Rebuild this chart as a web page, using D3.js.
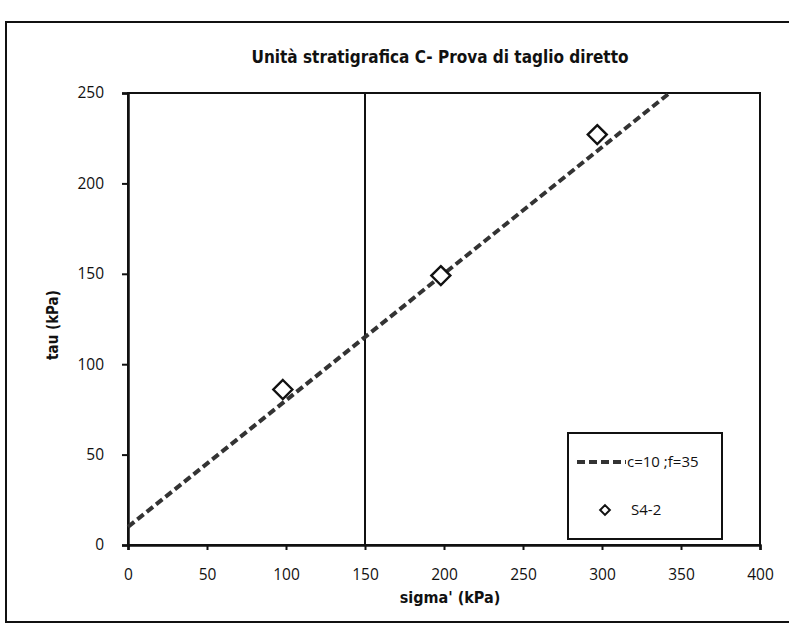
<!DOCTYPE html>
<html><head><meta charset="utf-8">
<script src="https://cdn.jsdelivr.net/npm/d3@7"></script>
<style>body{margin:0;background:#fff}svg{display:block}</style>
</head><body>
<svg id="c" width="789" height="628"></svg>
<script>
const title = "Unità stratigrafica C- Prova di taglio diretto";
const xTicks = [0,50,100,150,200,250,300,350,400];
const yTicks = [0,50,100,150,200,250];
const pointsX = [98,198,297];
const pointsY = [86,149,227];
const cohesion = 10, phiDeg = 35;
const lineX = [0,343];
const refX = 150;
const lineLabel = "c=10 ;f=35";
const pointLabel = "S4-2";

const svg = d3.select("#c");
const font = "'Open Sans', 'DejaVu Sans', sans-serif";
const m = {l:128, r:760, t:93, b:545};
const x = d3.scaleLinear().domain([0,400]).range([m.l,m.r]);
const y = d3.scaleLinear().domain([0,250]).range([m.b,m.t]);

// outer frame
svg.append("rect").attr("x",6).attr("y",22).attr("width",820).attr("height",600)
  .attr("fill","none").attr("stroke","#111").attr("stroke-width",2);

svg.append("text").attr("x",440).attr("y",63).attr("text-anchor","middle")
  .attr("font-family","'DejaVu Sans Condensed','Liberation Sans Narrow',sans-serif")
  .attr("font-weight","bold").attr("font-size",17).attr("fill","#111").text(title);

// plot box
svg.append("rect").attr("x",m.l).attr("y",m.t).attr("width",m.r-m.l).attr("height",m.b-m.t)
  .attr("fill","none").attr("stroke","#111").attr("stroke-width",2);

const xa = svg.append("g").attr("transform",`translate(0,${m.b})`)
  .call(d3.axisBottom(x).tickValues(xTicks).tickSize(5).tickPadding(19));
const ya = svg.append("g").attr("transform",`translate(${m.l},0)`)
  .call(d3.axisLeft(y).tickValues(yTicks).tickSize(6).tickPadding(18));
[xa,ya].forEach(a=>{
  a.select(".domain").attr("stroke","#111").attr("stroke-width",2.5);
  a.selectAll(".tick line").attr("stroke","#111").attr("stroke-width",2);
  a.selectAll("text").attr("font-family",font).attr("font-size",15.5).attr("fill","#111");
});

// vertical reference line
svg.append("line").attr("x1",x(refX)).attr("x2",x(refX)).attr("y1",y(250)).attr("y2",y(0))
  .attr("stroke","#111").attr("stroke-width",2);

// fit line
const tanPhi = Math.tan(phiDeg*Math.PI/180);
svg.append("path").datum(lineX)
  .attr("d", d3.line().x(d=>x(d)).y(d=>y(cohesion+tanPhi*d)))
  .attr("stroke","#333").attr("stroke-width",4).attr("fill","none")
  .attr("stroke-dasharray","8,4");

// diamonds
const diamond = d3.symbol().type(d3.symbolDiamond2).size(230);
svg.selectAll("path.pt").data(pointsX.map((v,i)=>[v,pointsY[i]])).join("path")
  .attr("class","pt").attr("d",diamond)
  .attr("transform",d=>`translate(${x(d[0])},${y(d[1])})`)
  .attr("fill","#fff").attr("stroke","#111").attr("stroke-width",2.4);

// legend
const lg = svg.append("g");
lg.append("rect").attr("x",568).attr("y",433).attr("width",154).attr("height",106)
  .attr("fill","#fff").attr("stroke","#111").attr("stroke-width",2);
lg.append("line").attr("x1",577).attr("x2",626).attr("y1",462).attr("y2",462)
  .attr("stroke","#333").attr("stroke-width",4).attr("stroke-dasharray","8,4");
lg.append("text").attr("x",627).attr("y",467).attr("font-family",font).attr("font-size",15)
  .attr("fill","#111").text(lineLabel);
lg.append("path").attr("d",d3.symbol().type(d3.symbolDiamond2).size(60))
  .attr("transform","translate(605,510)").attr("fill","#fff").attr("stroke","#111").attr("stroke-width",2);
lg.append("text").attr("x",631).attr("y",515).attr("font-family",font).attr("font-size",15)
  .attr("fill","#111").text(pointLabel);

// axis titles
svg.append("text").attr("x",450).attr("y",603).attr("text-anchor","middle")
  .attr("font-family","'DejaVu Sans Condensed',sans-serif").attr("font-weight","bold")
  .attr("font-size",16).attr("fill","#111").text("sigma' (kPa)");
svg.append("text").attr("transform","translate(58,325) rotate(-90)").attr("text-anchor","middle")
  .attr("font-family","'DejaVu Sans Condensed',sans-serif").attr("font-weight","bold")
  .attr("font-size",15).attr("fill","#111").text("tau (kPa)");
</script>
</body></html>
